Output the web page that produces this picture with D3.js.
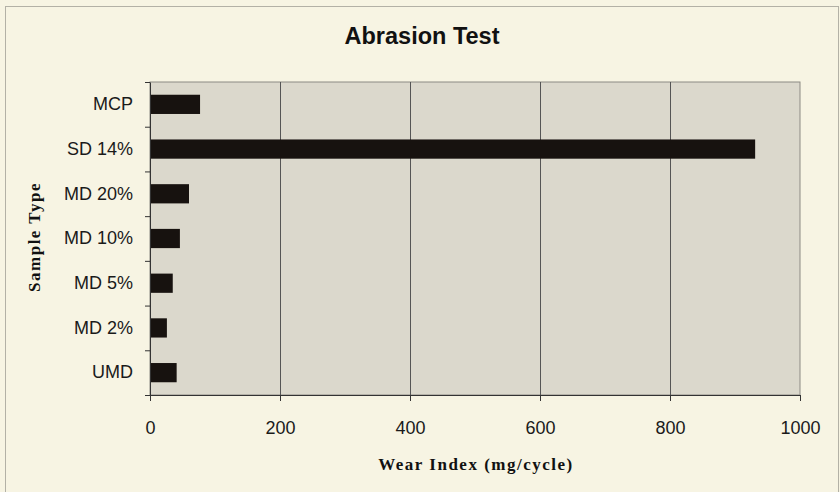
<!DOCTYPE html>
<html lang="en">
  <head>
    <meta charset="utf-8">
    <title>Abrasion Test</title>
    <style>
      body { margin: 0; background: #f7f4e3; }
      svg { display: block; }
      .tick text { font-family: "Liberation Sans", Arial, sans-serif; font-size: 18px; fill: #1a1a1a; }
    </style>
    <script src="https://cdn.jsdelivr.net/npm/d3@7/dist/d3.min.js"></script>
  </head>
  <body>
    <svg id="chart" width="840" height="492"></svg>
    <script>
      // data, top to bottom as drawn
      var samples = ["MCP", "SD 14%", "MD 20%", "MD 10%", "MD 5%", "MD 2%", "UMD"];
      var wear = [77, 931, 60, 46, 35, 26, 41];
      var xTicks = [0, 200, 400, 600, 800, 1000];

      var svg = d3.select("#chart");
      var pLeft = 150, pRight = 800, pTop = 82, pBottom = 395;

      // outer chart frame (bottom edge runs off the picture)
      svg.append("rect")
        .attr("x", 5.5).attr("y", 6.5).attr("width", 833).attr("height", 500)
        .style("fill", "#f7f4e3").style("stroke", "#b3b1a6").style("stroke-width", 1);

      svg.append("text")
        .attr("x", 422).attr("y", 44)
        .attr("text-anchor", "middle")
        .style("font-family", "Liberation Sans, Arial, sans-serif")
        .style("font-size", "23.5px").style("font-weight", "bold")
        .style("fill", "#111")
        .text("Abrasion Test");

      var x = d3.scaleLinear().domain([0, 1000]).range([pLeft, pRight]);
      var y = d3.scaleBand().domain(samples).range([pTop, pBottom]).paddingInner(0.57).paddingOuter(0.285);
      var yb = d3.scaleBand().domain(samples).range([pTop, pBottom]);

      // plot area
      svg.append("rect")
        .attr("x", pLeft).attr("y", pTop).attr("width", pRight - pLeft).attr("height", pBottom - pTop)
        .style("fill", "#dbd8cc").style("stroke", "#8c8a84").style("stroke-width", 1);

      // vertical gridlines
      svg.selectAll("line.grid").data(xTicks.slice(1, -1)).enter()
        .append("line").attr("class", "grid")
        .attr("x1", function(d) { return x(d) + 0.5; })
        .attr("x2", function(d) { return x(d) + 0.5; })
        .attr("y1", pTop).attr("y2", pBottom)
        .style("stroke", "#555").style("stroke-width", 1);

      // bars
      svg.selectAll("rect.bar").data(samples).enter()
        .append("rect").attr("class", "bar")
        .attr("x", x(0))
        .attr("y", function(d) { return y(d); })
        .attr("width", function(d, i) { return x(wear[i]) - x(0); })
        .attr("height", y.bandwidth())
        .style("fill", "#17120f");

      // x axis
      var xAxis = svg.append("g")
        .attr("transform", "translate(0," + pBottom + ")")
        .call(d3.axisBottom(x).tickValues(xTicks).tickFormat(d3.format("d")).tickSize(6).tickPadding(20));
      xAxis.select(".domain").style("stroke", "#333");
      xAxis.selectAll(".tick line").style("stroke", "#333");

      // y axis: labels centred on bands, ticks on band edges
      var yAxis = svg.append("g")
        .attr("transform", "translate(" + pLeft + ",0)")
        .call(d3.axisLeft(yb).tickSize(0).tickPadding(17));
      yAxis.select(".domain").style("stroke", "#333");
      yAxis.selectAll("line.edge").data(samples.concat([null])).enter()
        .append("line").attr("class", "edge")
        .attr("x1", -5).attr("x2", 0)
        .attr("y1", function(d, i) { return pTop + i * yb.step() + 0.5; })
        .attr("y2", function(d, i) { return pTop + i * yb.step() + 0.5; })
        .style("stroke", "#333");

      svg.append("text")
        .attr("x", 476).attr("y", 470)
        .attr("text-anchor", "middle")
        .style("font-family", "Liberation Serif, Times New Roman, serif")
        .style("font-size", "17px").style("font-weight", "bold")
        .style("letter-spacing", "1.5px")
        .style("fill", "#111")
        .text("Wear Index (mg/cycle)");

      svg.append("text")
        .attr("transform", "translate(40,237) rotate(-90)")
        .attr("text-anchor", "middle")
        .style("font-family", "Liberation Serif, Times New Roman, serif")
        .style("font-size", "17px").style("font-weight", "bold")
        .style("letter-spacing", "1.5px")
        .style("fill", "#111")
        .text("Sample Type");
    </script>
  </body>
</html>
